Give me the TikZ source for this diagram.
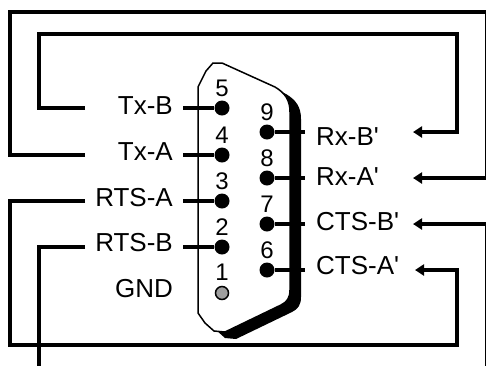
\documentclass[tikz,border=0pt]{standalone}
\usepackage{fontspec}
\setmonofont{Liberation Sans}
\usetikzlibrary{arrows.meta}

\tikzset{
  wire/.style={line width=4pt},
  wirein/.style={line width=4pt,-{Triangle[length=9pt,width=11pt]}},
  stub/.style={line width=3.5pt},
  pin/.style={circle,fill=black,inner sep=0pt,minimum size=15pt},
  gndpin/.style={circle,draw=black,line width=1.5pt,fill=gray!75,inner sep=0pt,minimum size=13pt},
  pinno/.style={font=\ttfamily\fontsize{24}{24}\selectfont,inner sep=0pt},
  sig/.style={font=\ttfamily\fontsize{26}{26}\selectfont,inner sep=0pt}
}

\begin{document}
\begin{tikzpicture}[x=1pt,y=-1pt]
\useasboundingbox (0,0) rectangle (486,365);

% connector shell with its shadow
\fill[shift={(11,7)}] (198,313) -- (198,87) -- (206,71) -- (213,63) -- (222,63) -- (275,87)
  .. controls (285,93) and (290,100) .. (290,112) -- (290,290)
  .. controls (290,298) and (287,302) .. (281,305) -- (225,332) -- (214,331) -- (205,323) -- cycle;
\filldraw[fill=white,line width=1.5pt] (198,313) -- (198,87) -- (206,71) -- (213,63) -- (222,63) -- (275,87)
  .. controls (285,93) and (290,100) .. (290,112) -- (290,290)
  .. controls (290,298) and (287,302) .. (281,305) -- (225,332) -- (214,331) -- (205,323) -- cycle;

% pins
\foreach \n/\y in {5/108,4/155,3/201,2/247}{
  \node[pin] (p\n) at (222,\y) {};
  \node[pinno] (n\n) at (222,\y-19.5) {\n};
  \coordinate (s\n) at (183,\y);
  \draw[stub] (s\n) -- (p\n);
}
\foreach \n/\y in {9/132,8/178,7/224,6/270}{
  \node[pin] (p\n) at (267,\y) {};
  \node[pinno] (n\n) at (267,\y-19.5) {\n};
  \coordinate (s\n) at (305,\y);
  \draw[stub] (p\n) -- (s\n);
}
\node[gndpin] (p1) at (222,293) {};
\node[pinno] (n1) at (222,272) {1};

% signal names
\node[sig,anchor=east] (txb) at (173,106) {Tx-B};
\node[sig,anchor=east] (txa) at (173,152) {Tx-A};
\node[sig,anchor=east] (rtsa) at (173,198) {RTS-A};
\node[sig,anchor=east] (rtsb) at (173,243) {RTS-B};
\node[sig,anchor=east] (gnd) at (173,289) {GND};
\node[sig,anchor=west] (rxb) at (316,137) {Rx-B'};
\node[sig,anchor=west] (rxa) at (316,177) {Rx-A'};
\node[sig,anchor=west] (ctsb) at (316,222) {CTS-B'};
\node[sig,anchor=west] (ctsa) at (316,266) {CTS-A'};

% wire ends
\coordinate (txbw) at (85,108);
\coordinate (txaw) at (85,155);
\coordinate (rtsaw) at (85,201);
\coordinate (rtsbw) at (85,247);
\coordinate (rxbw) at (413,132);
\coordinate (rxaw) at (413,178);
\coordinate (ctsbw) at (413,224);
\coordinate (ctsaw) at (415,270);

% loop-back wiring
\draw[wirein] (txbw) -| (39,34) -| (457,132) -- (rxbw);
\draw[wirein] (txaw) -| (9.5,12) -| (487.3,178) -- (rxaw);
\draw[wirein] (rtsaw) -| (9.5,345) -| (457,270) -- (ctsaw);
\draw[wire] (rtsbw) -| (39,368);
\draw[wirein] (487.3,368) |- (ctsbw);

\end{tikzpicture}
\end{document}
